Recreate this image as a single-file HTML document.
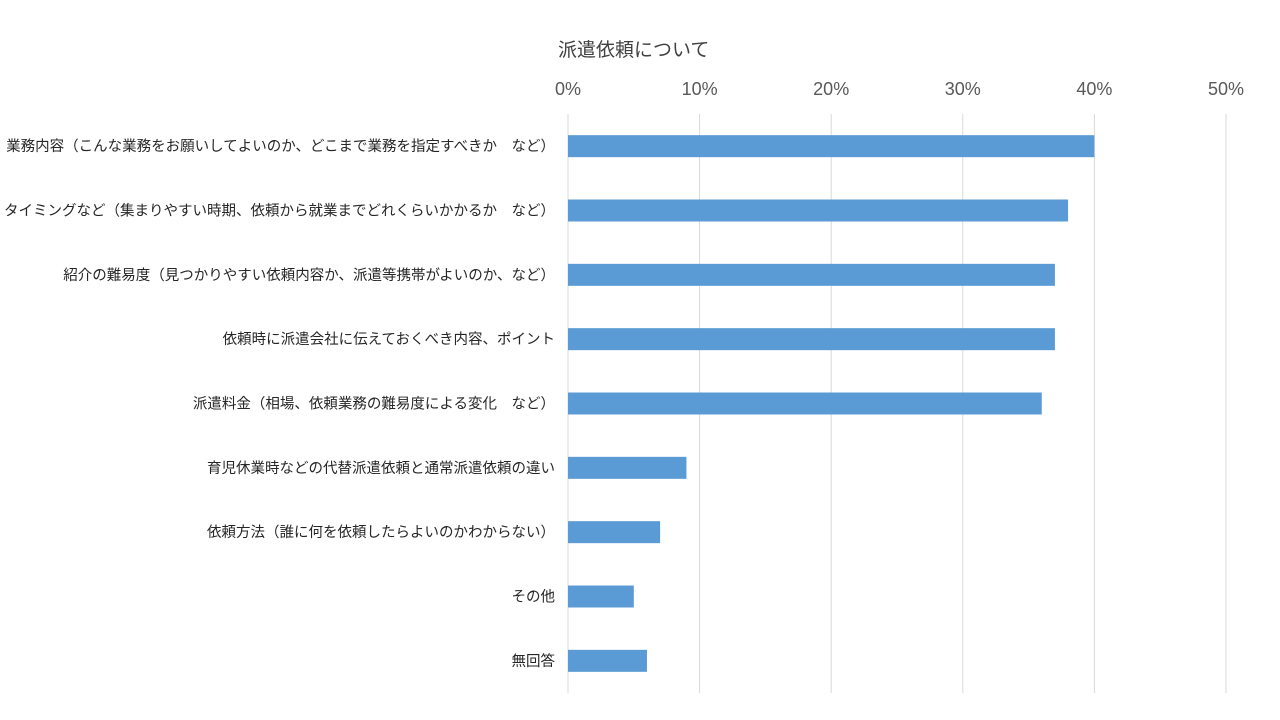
<!DOCTYPE html>
<html><head><meta charset="utf-8">
<style>
body{margin:0;background:#fff;}
svg{display:block;font-family:"Liberation Sans","Noto Sans CJK JP",sans-serif;}
</style></head>
<body>
<svg id="chart" width="1280" height="720" viewBox="0 0 1280 720">
<text x="558" y="56" font-size="19" fill="#404040">派遣依頼について</text>
<g id="grid"></g><g id="ticks"></g><g id="bars"></g><g id="labels"></g>
</svg>
<script>
const categories=["業務内容（こんな業務をお願いしてよいのか、どこまで業務を指定すべきか　など）","時期、タイミングなど（集まりやすい時期、依頼から就業までどれくらいかかるか　など）","紹介の難易度（見つかりやすい依頼内容か、派遣等携帯がよいのか、など）","依頼時に派遣会社に伝えておくべき内容、ポイント","派遣料金（相場、依頼業務の難易度による変化　など）","育児休業時などの代替派遣依頼と通常派遣依頼の違い","依頼方法（誰に何を依頼したらよいのかわからない）","その他","無回答"];
const values=[40,38,37,37,36,9,7,5,6];
const tickValues=[0,10,20,30,40,50];
const tickLabels=["0%","10%","20%","30%","40%","50%"];
const NS="http://www.w3.org/2000/svg";
const x0=568,pxPer=13.16,plotTop=114,plotBottom=693;
const band=(plotBottom-plotTop)/categories.length;
const xs=v=>x0+v*pxPer;
function mk(t,a,p){const e=document.createElementNS(NS,t);for(const k in a)e.setAttribute(k,a[k]);document.getElementById(p).appendChild(e);return e;}
tickValues.forEach((v,i)=>{
  const l=mk("line",{x1:xs(v),x2:xs(v),y1:plotTop,y2:plotBottom,stroke:"#d9d9d9","stroke-width":1},"grid");
  
  
  const t=mk("text",{x:xs(v),y:95,"font-size":18,fill:"#595959","text-anchor":"middle"},"ticks");
  
  
  t.textContent=tickLabels[i];
});
categories.forEach((c,i)=>{
  const cy=plotTop+band*(i+0.5);
  const r=mk("rect",{x:x0,y:cy-11,width:xs(values[i])-x0,height:22,fill:"#5b9bd5"},"bars");
  
  
  const t=mk("text",{x:555,y:cy+5,"font-size":14.5,fill:"#262626","text-anchor":"end"},"labels");
  
  
  t.textContent=c;
});
</script>
</body></html>
